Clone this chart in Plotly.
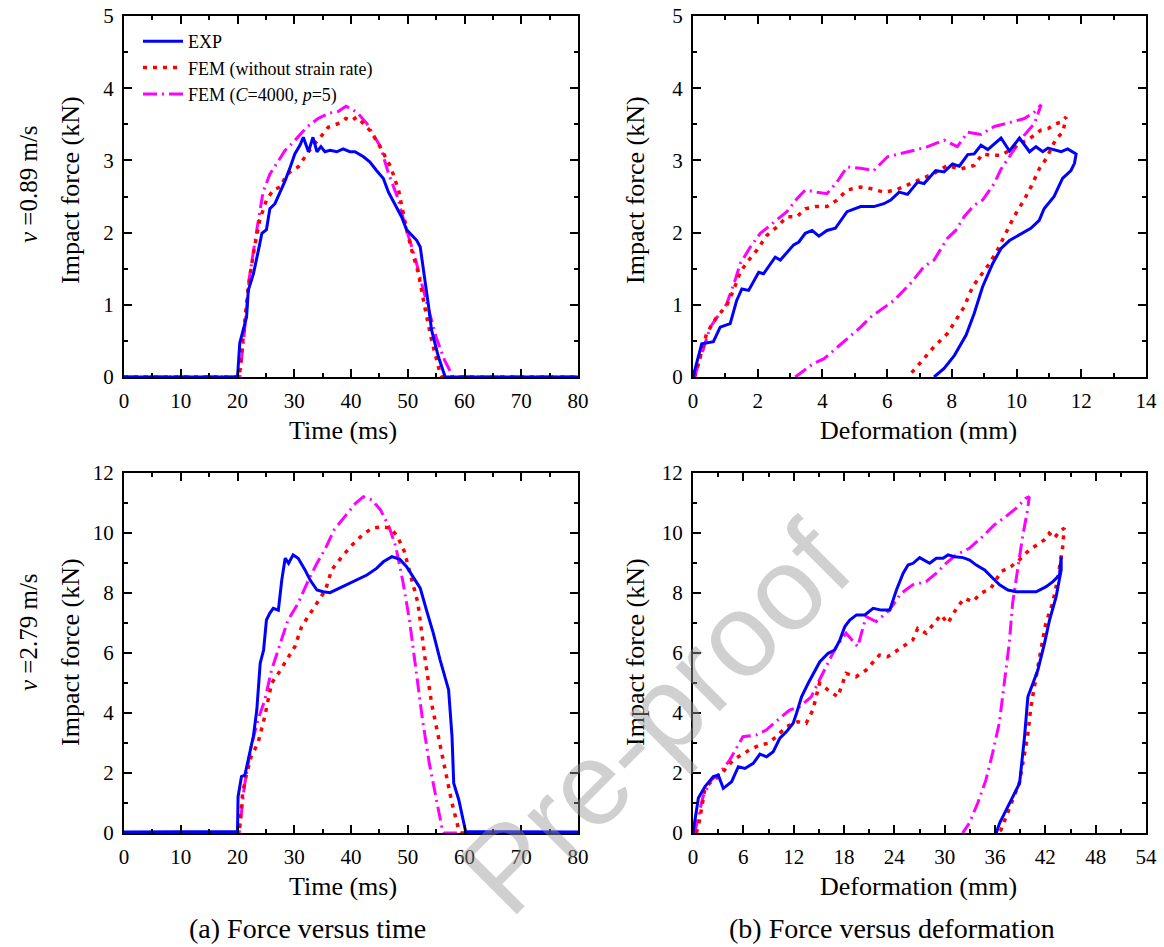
import plotly.graph_objects as go

# ---------------- data: (a) v=0.89 m/s, force vs time ----------------
t_exp_1 = [0, 20.0, 20.4, 21.6, 21.9, 22.8, 23.7, 24.3, 25.1, 25.7, 26.6, 27.5, 28.4, 29.3, 30.1, 31.0, 31.6,
           32.5, 33.3, 34.0, 34.7, 35.4, 36.3, 37.5, 38.6, 39.8, 40.7, 42.2, 43.3, 44.5, 45.7, 46.6, 47.7,
           48.9, 49.8, 50.7, 51.6, 52.2, 53.0, 53.6, 54.2, 55.4, 56.6, 80]
f_exp_1 = [0, 0, 0.47, 0.83, 1.20, 1.43, 1.76, 1.99, 2.04, 2.33, 2.40, 2.56, 2.72, 2.91, 3.09, 3.21, 3.32,
           3.12, 3.32, 3.12, 3.19, 3.12, 3.14, 3.12, 3.16, 3.12, 3.12, 3.05, 2.98, 2.86, 2.75, 2.56, 2.40,
           2.22, 2.04, 1.97, 1.89, 1.80, 1.39, 1.02, 0.65, 0.28, 0, 0]
t_fem_1 = [0, 20.3, 21.0, 21.9, 22.8, 23.9, 25.1, 26.3, 27.5, 28.6, 29.5, 30.7, 31.9, 33.3, 34.2, 36.0, 38.1,
           39.1, 40.1, 41.0, 42.2, 43.5, 45.1, 47.0, 48.4, 49.8, 50.7, 51.9, 53.0, 54.2, 55.7, 56.0, 80]
f_fem_1 = [0, 0, 0.55, 1.25, 1.71, 2.17, 2.45, 2.59, 2.63, 2.79, 2.86, 2.91, 3.05, 3.21, 3.28, 3.46, 3.52,
           3.58, 3.55, 3.60, 3.51, 3.40, 3.19, 2.91, 2.58, 2.04, 1.76, 1.43, 0.97, 0.51, 0.05, 0, 0]
t_sr_1 = [0, 20.4, 21.3, 22.1, 23.3, 24.5, 25.7, 26.9, 28.4, 29.8, 31.0, 32.2, 34.2, 36.0, 37.8, 39.1, 41.0,
          42.8, 44.2, 45.2, 46.6, 48.2, 49.3, 50.2, 51.4, 52.6, 53.8, 55.0, 56.5, 58.0, 80]
f_sr_1 = [0, 0, 0.69, 1.38, 1.99, 2.56, 2.81, 2.95, 3.14, 3.25, 3.36, 3.46, 3.58, 3.65, 3.68, 3.75, 3.67,
          3.51, 3.32, 3.19, 2.82, 2.49, 2.17, 1.94, 1.62, 1.25, 0.88, 0.55, 0.23, 0, 0]

# ---------------- data: (b) v=0.89 m/s, force vs deformation ----------------
d_exp_1 = [0, 0.27, 0.63, 0.84, 1.15, 1.35, 1.51, 1.72, 2.03, 2.18, 2.54, 2.70, 3.11, 3.27, 3.47, 3.68, 3.89,
           4.14, 4.40, 4.76, 5.18, 5.59, 5.90, 6.11, 6.37, 6.63, 6.94, 7.14, 7.50, 7.76, 8.02, 8.23, 8.49,
           8.69, 8.90, 9.11, 9.52, 9.78, 10.09, 10.40, 10.60, 10.81, 10.97, 11.38, 11.58, 11.84, 11.79,
           11.68, 11.42, 11.16, 10.85, 10.70, 10.44, 10.09, 9.78, 9.52, 9.26, 8.95, 8.69, 8.44, 8.08, 7.76, 7.45]
fd_exp_1 = [0, 0.46, 0.49, 0.69, 0.74, 1.06, 1.22, 1.20, 1.45, 1.43, 1.66, 1.62, 1.83, 1.87, 1.99, 2.03, 1.95,
            2.03, 2.06, 2.29, 2.36, 2.36, 2.40, 2.45, 2.56, 2.53, 2.70, 2.68, 2.86, 2.84, 2.95, 2.92, 3.08,
            3.09, 3.21, 3.15, 3.31, 3.13, 3.31, 3.12, 3.19, 3.12, 3.17, 3.12, 3.16, 3.09, 2.96,
            2.86, 2.75, 2.50, 2.33, 2.17, 2.06, 1.97, 1.89, 1.78, 1.57, 1.25, 0.88, 0.58, 0.30, 0.12, 0]
d_fem_1 = [0.05, 0.20, 0.42, 0.73, 1.04, 1.25, 1.46, 1.67, 1.98, 2.28, 2.60, 2.90, 3.21, 3.47, 3.78, 4.14, 4.45,
           4.76, 5.18, 5.49, 5.90, 6.27, 6.73, 7.04, 7.45, 7.86, 8.27, 8.69, 8.95, 9.20, 9.52, 9.78, 10.09,
           10.40, 10.75, 10.97, 11.22, 11.38, 11.53, 11.43, 11.22, 10.91, 10.71, 10.44, 10.23, 9.92, 9.67,
           9.41, 9.16, 8.85, 8.64, 8.38, 8.12, 7.86, 7.45, 7.14, 6.88, 6.63]
fd_fem_1 = [0, 0.23, 0.60, 0.83, 0.99, 1.20, 1.45, 1.59, 1.76, 1.96, 2.08, 2.22, 2.22, 2.33, 2.36, 2.36, 2.45,
            2.59, 2.63, 2.61, 2.56, 2.59, 2.68, 2.75, 2.82, 2.93, 2.88, 2.93, 3.09, 3.07, 3.07, 3.14, 3.23,
            3.30, 3.42, 3.44, 3.51, 3.53, 3.60, 3.39, 3.30, 3.02, 2.89, 2.63, 2.45, 2.22, 1.99,
            1.76, 1.57, 1.38, 1.25, 0.97, 0.79, 0.60, 0.42, 0.25, 0.12, 0]
d_sr_1 = [0.05, 0.32, 0.53, 0.78, 1.04, 1.30, 1.46, 1.77, 2.08, 2.33, 2.70, 2.90, 3.21, 3.47, 3.83, 4.14, 4.45,
          4.76, 5.18, 5.59, 6.01, 6.42, 6.84, 7.25, 7.76, 8.17, 8.49, 8.90, 9.31, 9.83, 10.24, 10.55, 10.76,
          10.55, 10.24, 9.88, 9.52, 9.31, 8.95, 8.69, 8.38, 8.12, 7.86, 7.60, 7.45, 7.14, 6.73, 6.21, 5.80,
          5.49, 5.18, 4.66, 4.35, 4.04, 3.73, 3.42, 3.16]
fd_sr_1 = [0, 0.37, 0.69, 0.85, 1.01, 1.34, 1.57, 1.80, 1.99, 2.08, 2.22, 2.29, 2.47, 2.59, 2.56, 2.54, 2.70,
           2.91, 2.89, 2.86, 3.05, 3.09, 3.14, 3.19, 3.28, 3.19, 3.39, 3.36, 3.47, 3.53, 3.58, 3.67, 3.77,
           3.51, 3.35, 3.12, 2.88, 2.68, 2.45, 2.38, 2.22, 2.03, 1.92, 1.73, 1.62, 1.53, 1.30, 1.06, 0.93,
           0.83, 0.69, 0.49, 0.37, 0.25, 0.19, 0.09, 0]

# ---------------- data: (a) v=2.79 m/s, force vs time ----------------
t_exp_2 = [0, 20.0, 20.1, 20.7, 21.3, 22.2, 22.8, 23.4, 24.0, 24.6, 25.1, 25.7, 26.3, 27.2, 27.8, 28.4, 29.0,
           29.8, 30.7, 31.9, 32.8, 34.0, 35.1, 36.3, 38.6, 41.0, 42.8, 44.5, 45.7, 47.2, 48.6, 49.8, 51.0,
           52.2, 53.3, 54.5, 55.7, 57.2, 57.8, 58.1, 59.0, 60.2, 80]
f_exp_2 = [0.03, 0.05, 1.21, 1.88, 1.93, 2.66, 3.23, 4.10, 5.66, 6.10, 7.10, 7.33, 7.49, 7.43, 8.43, 9.16, 8.99,
           9.27, 9.16, 8.77, 8.43, 8.10, 8.04, 8.01, 8.21, 8.43, 8.60, 8.82, 9.04, 9.21, 9.12, 8.88, 8.54,
           8.16, 7.43, 6.66, 5.77, 4.77, 3.21, 1.66, 1.10, 0.05, 0.03]
t_fem_2 = [0, 20.3, 20.9, 21.5, 22.4, 23.6, 24.8, 26.0, 27.2, 28.6, 30.1, 31.3, 32.8, 34.0, 35.5, 36.6, 38.4,
           40.2, 42.0, 43.7, 45.5, 47.0, 48.2, 49.4, 50.6, 51.8, 53.0, 54.2, 55.4, 56.6, 57.8, 59.0, 59.3, 80]
f_fem_2 = [0, 0, 1.32, 1.88, 2.55, 2.99, 3.88, 4.99, 5.32, 5.77, 6.21, 6.88, 7.33, 7.66, 8.10, 8.77, 9.21,
           9.60, 9.93, 10.16, 10.21, 10.16, 9.88, 9.38, 8.54, 7.66, 5.88, 4.32, 3.21, 2.10, 0.99, 0.10, 0, 0]
t_sr_2 = [0, 20.3, 21.2, 22.4, 23.6, 24.8, 26.0, 27.5, 28.9, 30.7, 32.5, 34.0, 35.5, 37.0, 39.0, 40.8, 42.2,
          43.7, 45.2, 46.7, 47.9, 49.1, 50.3, 51.4, 52.6, 53.8, 55.0, 56.1, 56.4, 80]
f_sr_2 = [0, 0, 1.55, 2.88, 3.77, 4.43, 5.43, 6.32, 7.10, 7.66, 8.43, 8.99, 9.49, 10.10, 10.55, 10.99, 11.21,
          11.10, 10.77, 10.21, 9.54, 8.43, 7.10, 5.43, 3.77, 2.32, 1.21, 0.10, 0, 0]

# ---------------- data: (b) v=2.79 m/s, force vs deformation ----------------
d_exp_2 = [0, 0.64, 1.43, 2.42, 3.02, 3.61, 4.60, 5.40, 6.19, 7.18, 7.98, 8.77, 9.56, 10.36, 11.15, 11.94,
           12.34, 12.94, 13.73, 14.33, 15.12, 16.11, 16.90, 17.50, 18.10, 18.69, 19.49, 20.48, 21.47, 22.46,
           23.45, 24.25, 25.04, 25.63, 26.23, 27.02, 28.21, 29.00, 29.80, 30.40, 31.19, 32.18, 32.98, 33.77,
           34.76, 35.75, 36.55, 37.54, 38.53, 39.72, 40.91, 42.10, 42.90, 43.69, 43.89, 43.89, 43.29, 42.50,
           41.90, 41.11, 40.52, 39.92, 39.52, 39.13, 38.93, 38.13, 37.34, 36.55, 36.15]
fd_exp_2 = [0, 1.17, 1.55, 1.88, 1.93, 1.49, 1.71, 2.21, 2.15, 2.32, 2.63, 2.54, 2.71, 3.16, 3.38, 3.66,
            3.99, 4.54, 4.99, 5.32, 5.71, 5.99, 6.10, 6.43, 6.88, 7.10, 7.27, 7.27, 7.49, 7.43,
            7.43, 8.10, 8.65, 8.93, 8.99, 9.18, 8.99, 9.16, 9.16, 9.27, 9.21, 9.18, 9.10, 8.93,
            8.77, 8.49, 8.27, 8.10, 8.04, 8.04, 8.04, 8.21, 8.38, 8.60, 9.21, 8.77, 7.88, 7.10,
            6.32, 5.43, 4.99, 4.54, 3.21, 2.32, 1.66, 1.21, 0.77, 0.33, 0]
d_fem_2 = [0.40, 0.79, 1.39, 1.98, 2.77, 3.77, 4.76, 5.75, 6.75, 7.94, 8.93, 9.92, 11.11, 12.50, 13.49, 14.29,
           15.08, 16.07, 17.26, 18.25, 19.44, 20.63, 22.22, 23.21, 25.00, 26.19, 26.79, 27.78, 29.56, 30.36,
           31.55, 32.34, 33.33, 34.33, 35.52, 36.71, 37.90, 38.89, 40.08, 41.07, 41.86, 42.46, 43.05, 43.65,
           44.25, 44.05, 43.45, 42.86, 42.06, 41.47, 40.87, 40.28, 39.88, 39.29, 38.89, 38.10, 37.30, 36.71, 36.30]
fd_fem_2 = [0, 0.44, 1.43, 1.66, 1.82, 2.10, 2.43, 2.60, 2.77, 2.93, 2.99, 3.21, 3.54, 3.71, 3.66, 4.10,
            4.99, 4.77, 4.54, 5.32, 5.21, 5.43, 5.93, 5.88, 6.21, 6.43, 6.82, 6.66, 7.27, 6.99,
            7.55, 7.82, 7.71, 7.99, 8.16, 8.71, 8.88, 9.10, 9.43, 9.60, 9.77, 9.99, 9.82, 10.04,
            10.16, 9.49, 8.43, 7.66, 6.99, 6.10, 5.21, 4.21, 3.21, 2.32, 1.66, 1.10, 0.55, 0.10, 0]
d_sr_2 = [0.20, 1.19, 2.18, 2.98, 4.37, 5.95, 7.54, 8.73, 10.12, 11.51, 12.70, 14.09, 14.88, 15.87, 17.06,
          18.25, 19.64, 20.63, 21.83, 23.41, 24.80, 26.19, 27.78, 28.97, 30.16, 31.35, 32.94, 34.52, 35.91,
          37.30, 38.49, 39.68, 40.08, 39.88, 39.29, 38.69, 38.10, 37.70, 37.10, 36.51, 35.71, 34.92, 33.93,
          32.94, 32.14]
fd_sr_2 = [0, 1.21, 1.77, 1.93, 2.43, 3.21, 3.27, 3.43, 3.77, 4.10, 4.21, 4.54, 4.99, 5.54, 6.21,
           6.66, 6.21, 7.21, 7.05, 7.43, 7.99, 8.27, 8.38, 8.65, 8.99, 9.27, 9.49, 9.88, 10.27,
           10.55, 10.82, 11.16, 11.21, 10.77, 9.88, 8.77, 7.66, 6.32, 4.88, 3.66, 2.66, 1.77, 0.99,
           0.33, 0]

legend_names = ["EXP", "FEM (without strain rate)", "FEM (<i>C</i>=4000, <i>p</i>=5)"]
caption_a = "(a) Force versus time"
caption_b = "(b) Force versus deformation"
watermark = "Pre-proof"

# ---------------- styling ----------------
W, H = 1164, 947
SERIF = "Liberation Serif, Times New Roman, serif"
BLUE, RED, MAG = "#0000FF", "#FF0000", "#FF00FF"
styles = [
    dict(color=BLUE, width=3, dash="solid"),
    dict(color=RED, width=3.5, dash="4px,6px"),
    dict(color=MAG, width=3, dash="14px,5px,2px,5px"),
]

def px_x(p):
    return p / W

def px_y(p):
    return 1 - p / H

fig = go.Figure()

panels = [
    ("x", "y", [(t_exp_1, f_exp_1), (t_fem_1, f_fem_1), (t_sr_1, f_sr_1)], True),
    ("x2", "y2", [(d_exp_1, fd_exp_1), (d_fem_1, fd_fem_1), (d_sr_1, fd_sr_1)], False),
    ("x3", "y3", [(t_exp_2, f_exp_2), (t_fem_2, f_fem_2), (t_sr_2, f_sr_2)], False),
    ("x4", "y4", [(d_exp_2, fd_exp_2), (d_fem_2, fd_fem_2), (d_sr_2, fd_sr_2)], False),
]
order = [2, 1, 0]
for xa, ya, series, showleg in panels:
    for i in order:
        xs, ys = series[i]
        fig.add_trace(go.Scatter(
            x=xs, y=ys, mode="lines", xaxis=xa, yaxis=ya,
            line=styles[i], name=legend_names[i], showlegend=showleg,
            legendrank=i + 1,
        ))

left_dom = [px_x(124), px_x(578)]
right_dom = [px_x(693), px_x(1146)]
top_dom = [px_y(377), px_y(16)]
bot_dom = [px_y(833), px_y(473)]

def axis(domain, rng, dtick, mdtick, anchor):
    return dict(
        domain=domain, range=rng, anchor=anchor, dtick=dtick, tick0=0,
        showline=True, linecolor="black", linewidth=2, mirror="ticks",
        ticks="inside", ticklen=8, tickwidth=2, tickcolor="black",
        minor=dict(ticks="inside", ticklen=4, tickwidth=2, tickcolor="black", dtick=mdtick, tick0=0),
        showgrid=False, zeroline=False, automargin=False,
        tickfont=dict(family=SERIF, size=21, color="black"),
        ticklabelstandoff=4,
    )

fig.update_layout(
    width=W, height=H,
    margin=dict(l=0, r=0, t=0, b=0, pad=0, autoexpand=False),
    paper_bgcolor="white", plot_bgcolor="white",
    xaxis=axis(left_dom, [0, 80], 10, 5, "y"),
    yaxis=axis(top_dom, [0, 5], 1, 0.5, "x"),
    xaxis2=axis(right_dom, [0, 14], 2, 1, "y2"),
    yaxis2=axis(top_dom, [0, 5], 1, 0.5, "x2"),
    xaxis3=axis(left_dom, [0, 80], 10, 5, "y3"),
    yaxis3=axis(bot_dom, [0, 12], 2, 1, "x3"),
    xaxis4=axis(right_dom, [0, 54], 6, 3, "y4"),
    yaxis4=axis(bot_dom, [0, 12], 2, 1, "x4"),
    legend=dict(
        x=px_x(138), y=px_y(23), xanchor="left", yanchor="top",
        bgcolor="rgba(0,0,0,0)", borderwidth=0,
        font=dict(family=SERIF, size=18, color="black"),
        tracegroupgap=0, itemwidth=40,
    ),
    showlegend=True,
)

ann = []
def text(x, y, s, size, angle=0):
    ann.append(dict(x=px_x(x), y=px_y(y), xref="paper", yref="paper", text=s,
                    showarrow=False, textangle=angle, xanchor="center", yanchor="middle",
                    font=dict(family=SERIF, size=size, color="black")))

text(343, 430, "Time (ms)", 26)
text(918, 430, "Deformation (mm)", 26)
text(343, 886, "Time (ms)", 26)
text(918, 886, "Deformation (mm)", 26)
text(70, 190, "Impact force (kN)", 26, -90)
text(635, 190, "Impact force (kN)", 26, -90)
text(70, 652, "Impact force (kN)", 26, -90)
text(635, 652, "Impact force (kN)", 26, -90)
text(28, 184, "<i>v</i> =0.89 m/s", 25, -90)
text(28, 632, "<i>v</i> =2.79 m/s", 25, -90)
text(307, 928, caption_a, 28)
text(892, 928, caption_b, 28)

# watermark (kept fully inside the page)
ann.append(dict(x=px_x(655), y=px_y(718), xref="paper", yref="paper", text=watermark,
                showarrow=False, textangle=-45, xanchor="center", yanchor="middle",
                font=dict(family="Liberation Sans, Arial, sans-serif", size=118,
                          color="rgba(150,150,150,0.45)")))

fig.update_layout(annotations=ann)
fig.write_html("out.html")
